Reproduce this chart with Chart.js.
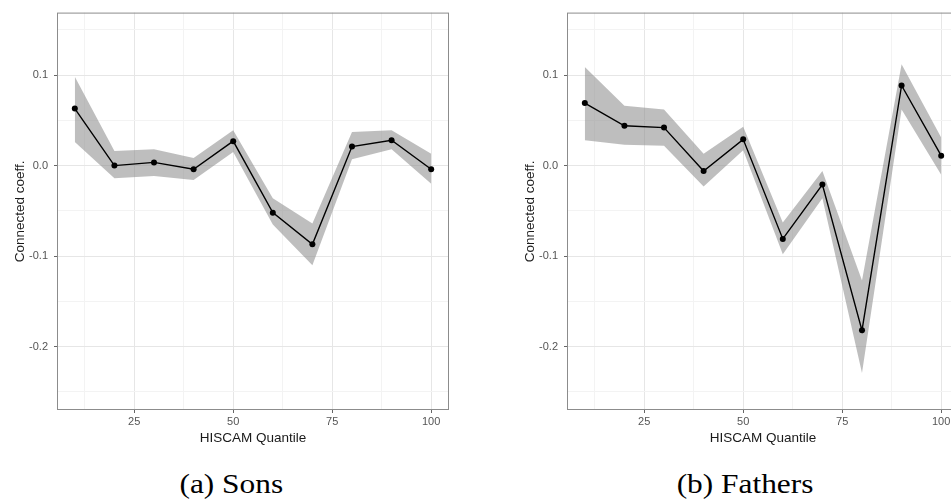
<!DOCTYPE html>
<html>
<head>
<meta charset="utf-8">
<script src="https://cdn.jsdelivr.net/npm/chart.js@4/dist/chart.umd.min.js"></script>
<style>
html, body { margin: 0; padding: 0; background: #fff; overflow: hidden; width: 951px; height: 502px; }
.panel { position: absolute; top: 0; width: 460px; height: 450px; }
.caption {
  position: absolute; top: 468px; width: 300px; text-align: center;
  font-family: "Liberation Serif", serif; font-size: 28px; color: #000;
}
.caption span { display: inline-block; transform: scaleX(1.12); }
</style>
</head>
<body>
<div class="panel" style="left:0"><canvas id="sons" width="460" height="450"></canvas></div>
<div class="panel" style="left:510px"><canvas id="fathers" width="460" height="450"></canvas></div>
<div class="caption" style="left:81px"><span>(a) Sons</span></div>
<div class="caption" style="left:595px"><span>(b) Fathers</span></div>
<script>
'use strict'

// data

var quantiles = [10, 20, 30, 40, 50, 60, 70, 80, 90, 100];

var sonsCoef  = [0.063, 0.000, 0.0035, -0.004, 0.027, -0.052, -0.087, 0.021, 0.028, -0.004];
var sonsUpper = [0.098, 0.016, 0.018, 0.0085, 0.039, -0.036, -0.064, 0.037, 0.039, 0.013];
var sonsLower = [0.026, -0.014, -0.0115, -0.016, 0.015, -0.065, -0.110, 0.007, 0.018, -0.020];

var fathersCoef  = [0.069, 0.044, 0.042, -0.006, 0.029, -0.081, -0.021, -0.182, 0.0885, 0.011];
var fathersUpper = [0.109, 0.066, 0.062, 0.013, 0.043, -0.063, -0.006, -0.127, 0.112, 0.031];
var fathersLower = [0.028, 0.023, 0.022, -0.023, 0.017, -0.098, -0.036, -0.229, 0.062, -0.010];

// ticks (major get labels, minor are just grid lines)
var xMajorTicks = [25, 50, 75, 100];
var xMinorTicks = [12.5, 37.5, 62.5, 87.5];
var yMajorTicks = [-0.2, -0.1, 0, 0.1];
var yMinorTicks = [-0.25, -0.15, -0.05, 0.05, 0.15];

function isIn(list, v) {
  return list.some(function(t) { return Math.abs(t - v) < 1e-9; });
}

function points(values) {
  return quantiles.map(function(q, i) { return { x: q, y: values[i] }; });
}

// box around the plot area, like theme_bw
var panelBorder = {
  id: 'panelBorder',
  afterDraw: function(chart) {
    var a = chart.chartArea, c = chart.ctx;
    c.save();
    c.strokeStyle = '#8c8c8c';
    c.lineWidth = 1;
    c.strokeRect(a.left + 0.5, a.top + 0.5, a.right - a.left - 1, a.bottom - a.top - 1);
    c.restore();
  }
};

function makeChart(id, coef, upper, lower) {
  var ctx = document.getElementById(id).getContext('2d');
  return new Chart(ctx, {
    type: 'line',
    data: {
      datasets: [{
        data: points(coef),
        borderColor: '#000',
        borderWidth: 1.4,
        pointRadius: 3,
        pointBackgroundColor: '#000',
        pointBorderWidth: 0,
        fill: false,
        tension: 0,
        order: 0
      },
      {
        data: points(upper),
        borderWidth: 0,
        pointRadius: 0,
        backgroundColor: 'rgba(140,140,140,0.57)',
        fill: '+1',
        tension: 0,
        order: 1
      },
      {
        data: points(lower),
        borderWidth: 0,
        pointRadius: 0,
        fill: false,
        tension: 0,
        order: 2
      }]
    },
    options: {
      responsive: false,
      animation: false,
      layout: { padding: { top: 9, right: 11, left: 0, bottom: 0 } },
      plugins: {
        legend: { display: false },
        tooltip: { enabled: false },
        filler: { drawTime: 'beforeDatasetsDraw' }
      },
      scales: {
        x: {
          type: 'linear',
          min: 5.5,
          max: 104.5,
          border: { display: false },
          afterBuildTicks: function(scale) {
            scale.ticks = xMinorTicks.concat(xMajorTicks).sort(function(a, b) { return a - b; })
              .map(function(v) { return { value: v }; });
          },
          afterFit: function(scale) { scale.height = 40; },
          grid: {
            color: function(c) { return isIn(xMajorTicks, c.tick.value) ? '#e6e6e6' : '#f3f3f3'; },
            tickColor: function(c) { return isIn(xMajorTicks, c.tick.value) ? '#666' : 'rgba(0,0,0,0)'; },
            tickLength: 3
          },
          ticks: {
            autoSkip: false,
            maxRotation: 0,
            padding: 2,
            color: '#555',
            font: { family: 'Liberation Sans', size: 11 },
            callback: function(v) { return isIn(xMajorTicks, v) ? String(v) : ''; }
          },
          title: {
            display: true,
            text: 'HISCAM Quantile',
            color: '#1a1a1a',
            font: { family: 'Liberation Sans', size: 13.5 },
            padding: { top: 0, bottom: 4 }
          }
        },
        y: {
          min: -0.27,
          max: 0.169,
          border: { display: false },
          afterBuildTicks: function(scale) {
            scale.ticks = yMinorTicks.concat(yMajorTicks).sort(function(a, b) { return a - b; })
              .map(function(v) { return { value: v }; });
          },
          afterFit: function(scale) { scale.width = 57; },
          grid: {
            color: function(c) { return isIn(yMajorTicks, c.tick.value) ? '#e6e6e6' : '#f3f3f3'; },
            tickColor: function(c) { return isIn(yMajorTicks, c.tick.value) ? '#666' : 'rgba(0,0,0,0)'; },
            tickLength: 3
          },
          ticks: {
            autoSkip: false,
            padding: 6,
            color: '#555',
            font: { family: 'Liberation Sans', size: 11 },
            callback: function(v) { return isIn(yMajorTicks, v) ? v.toFixed(1) : ''; }
          },
          title: {
            display: true,
            text: 'Connected coeff.',
            color: '#1a1a1a',
            font: { family: 'Liberation Sans', size: 13.5 },
            padding: { top: 12, bottom: 0 }
          }
        }
      }
    },
    plugins: [panelBorder]
  });
}

makeChart('sons', sonsCoef, sonsUpper, sonsLower);
makeChart('fathers', fathersCoef, fathersUpper, fathersLower);
</script>
</body>
</html>
